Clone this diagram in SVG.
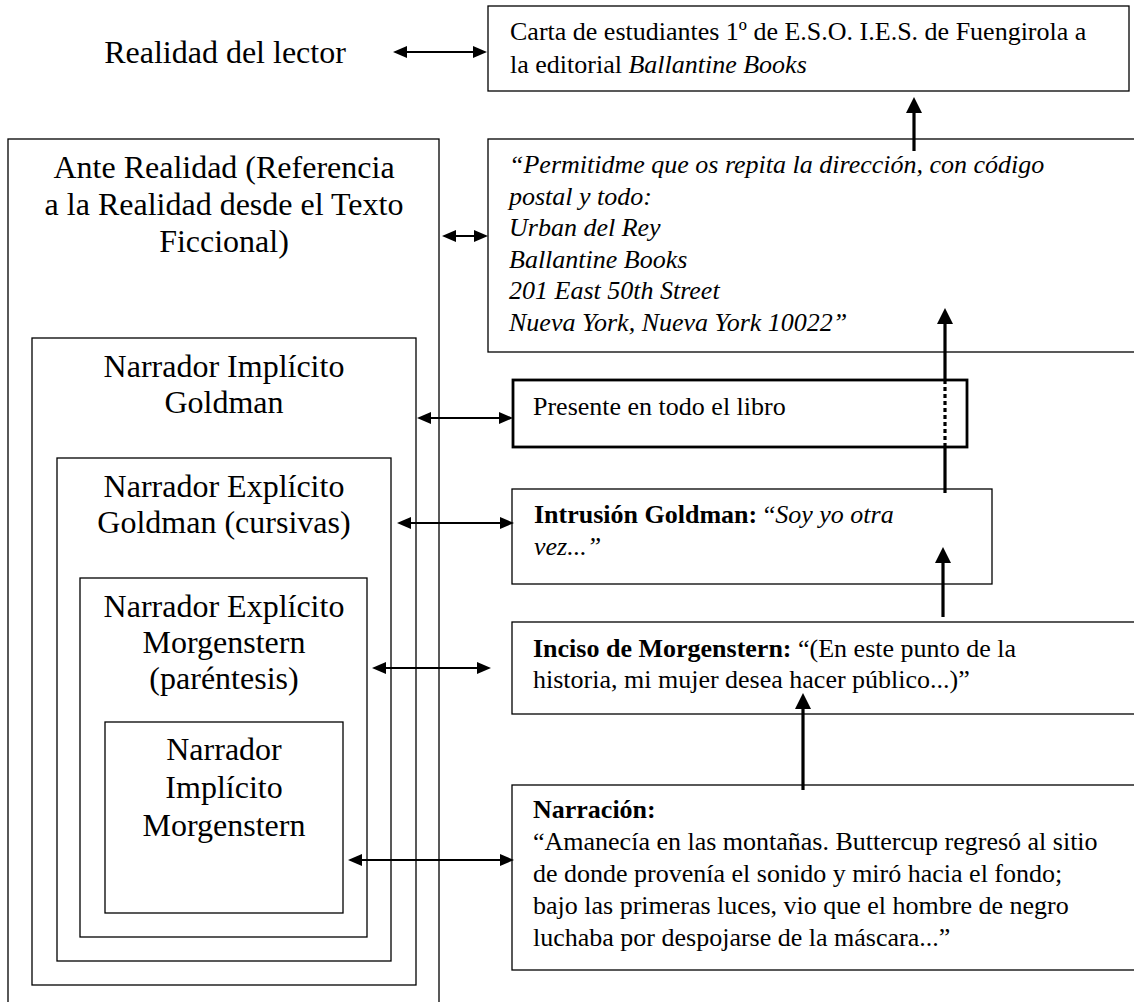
<svg xmlns="http://www.w3.org/2000/svg" width="1134" height="1002" viewBox="0 0 1134 1002">
<style>
.box{fill:#fff;stroke:#000;stroke-width:1.3}
.thick{fill:#fff;stroke:#000;stroke-width:2.8}
.lbl{font-family:"Liberation Serif","Times New Roman",serif;font-size:32px;fill:#000;text-anchor:middle}
.txt{font-family:"Liberation Serif","Times New Roman",serif;font-size:26px;fill:#000}
.it{font-style:italic}
.b{font-weight:bold}
.h{stroke:#000;stroke-width:2;fill:none}
.v{stroke:#000;stroke-width:3.2;fill:none}
</style>
<defs>
<marker id="ah" viewBox="0 0 14 12" refX="10" refY="6" markerWidth="14" markerHeight="12" markerUnits="userSpaceOnUse" orient="auto-start-reverse"><path d="M0,0 L14,6 L0,12 z" fill="#000"/></marker>
<marker id="av" viewBox="0 0 16 16" refX="12" refY="8" markerWidth="16" markerHeight="16" markerUnits="userSpaceOnUse" orient="auto"><path d="M0,0 L16,8 L0,16 z" fill="#000"/></marker>
</defs>
<rect width="1134" height="1002" fill="#fff"/>

<g id="realidad-lector">
<text class="lbl" x="225" y="63">Realidad del lector</text>
</g>

<g id="carta">
<rect class="box" x="488" y="6" width="641" height="85"/>
<text class="txt" x="510" y="40">Carta de estudiantes 1º de E.S.O. I.E.S. de Fuengirola a</text>
<text class="txt" x="510" y="73">la editorial <tspan class="it">Ballantine Books</tspan></text>
</g>

<g id="ante-realidad">
<rect class="box" x="8" y="139" width="431" height="880"/>
<text class="lbl" x="224" y="178">Ante Realidad (Referencia</text>
<text class="lbl" x="224" y="215">a la Realidad desde el Texto</text>
<text class="lbl" x="224" y="252">Ficcional)</text>
</g>

<g id="direccion">
<rect class="box" x="488" y="139" width="660" height="213"/>
<text class="txt it" x="509" y="173">“Permitidme que os repita la dirección, con código</text>
<text class="txt it" x="509" y="204.5">postal y todo:</text>
<text class="txt it" x="509" y="236">Urban del Rey</text>
<text class="txt it" x="509" y="267.5">Ballantine Books</text>
<text class="txt it" x="509" y="299">201 East 50th Street</text>
<text class="txt it" x="509" y="330.5">Nueva York, Nueva York 10022”</text>
</g>

<g id="narrador-implicito-goldman">
<rect class="box" x="32" y="338" width="384" height="647"/>
<text class="lbl" x="224" y="377">Narrador Implícito</text>
<text class="lbl" x="224" y="413">Goldman</text>
</g>

<g id="presente">
<rect class="thick" x="513" y="380" width="454" height="67"/>
<text class="txt" x="533" y="415">Presente en todo el libro</text>
</g>

<g id="narrador-explicito-goldman">
<rect class="box" x="57" y="458" width="334" height="503"/>
<text class="lbl" x="224" y="497">Narrador Explícito</text>
<text class="lbl" x="224" y="533">Goldman (cursivas)</text>
</g>

<g id="intrusion">
<rect class="box" x="512" y="489" width="480" height="95"/>
<text class="txt" x="534" y="523"><tspan class="b">Intrusión Goldman:</tspan> “<tspan class="it">Soy yo otra</tspan></text>
<text class="txt it" x="534" y="555">vez...”</text>
</g>

<g id="narrador-explicito-morgenstern">
<rect class="box" x="80" y="578" width="287" height="359"/>
<text class="lbl" x="224" y="617">Narrador Explícito</text>
<text class="lbl" x="224" y="653">Morgenstern</text>
<text class="lbl" x="224" y="689">(paréntesis)</text>
</g>

<g id="inciso">
<rect class="box" x="512" y="622" width="640" height="92"/>
<text class="txt" x="533" y="657"><tspan class="b">Inciso de Morgenstern:</tspan> “(En este punto de la</text>
<text class="txt" x="533" y="688">historia, mi mujer desea hacer público...)”</text>
</g>

<g id="narrador-implicito-morgenstern">
<rect class="box" x="105" y="722" width="238" height="191"/>
<text class="lbl" x="224" y="760">Narrador</text>
<text class="lbl" x="224" y="798">Implícito</text>
<text class="lbl" x="224" y="836">Morgenstern</text>
</g>

<g id="narracion">
<rect class="box" x="512" y="785" width="640" height="185"/>
<text class="txt b" x="533" y="818">Narración:</text>
<text class="txt" x="533" y="850">“Amanecía en las montañas. Buttercup regresó al sitio</text>
<text class="txt" x="533" y="882">de donde provenía el sonido y miró hacia el fondo;</text>
<text class="txt" x="533" y="914">bajo las primeras luces, vio que el hombre de negro</text>
<text class="txt" x="533" y="946">luchaba por despojarse de la máscara...”</text>
</g>

<g id="connectors">
<line class="h" x1="397" y1="52" x2="483" y2="52" marker-start="url(#ah)" marker-end="url(#ah)"/>
<line class="h" x1="446" y1="236" x2="484" y2="236" marker-start="url(#ah)" marker-end="url(#ah)"/>
<line class="h" x1="421" y1="418" x2="509" y2="418" marker-start="url(#ah)" marker-end="url(#ah)"/>
<line class="h" x1="401" y1="523" x2="510" y2="523" marker-start="url(#ah)" marker-end="url(#ah)"/>
<line class="h" x1="376" y1="668" x2="487" y2="668" marker-start="url(#ah)" marker-end="url(#ah)"/>
<line class="h" x1="352" y1="860" x2="510" y2="860" marker-start="url(#ah)" marker-end="url(#ah)"/>
<line class="v" x1="914" y1="151" x2="914" y2="101" marker-end="url(#av)"/>
<line class="v" x1="945" y1="493" x2="945" y2="448"/>
<line class="v" x1="945" y1="447" x2="945" y2="381" stroke-dasharray="4,3"/>
<line class="v" x1="945" y1="380" x2="945" y2="312" marker-end="url(#av)"/>
<line class="v" x1="943" y1="617" x2="943" y2="551" marker-end="url(#av)"/>
<line class="v" x1="803" y1="790" x2="803" y2="697" marker-end="url(#av)"/>
</g>
</svg>
